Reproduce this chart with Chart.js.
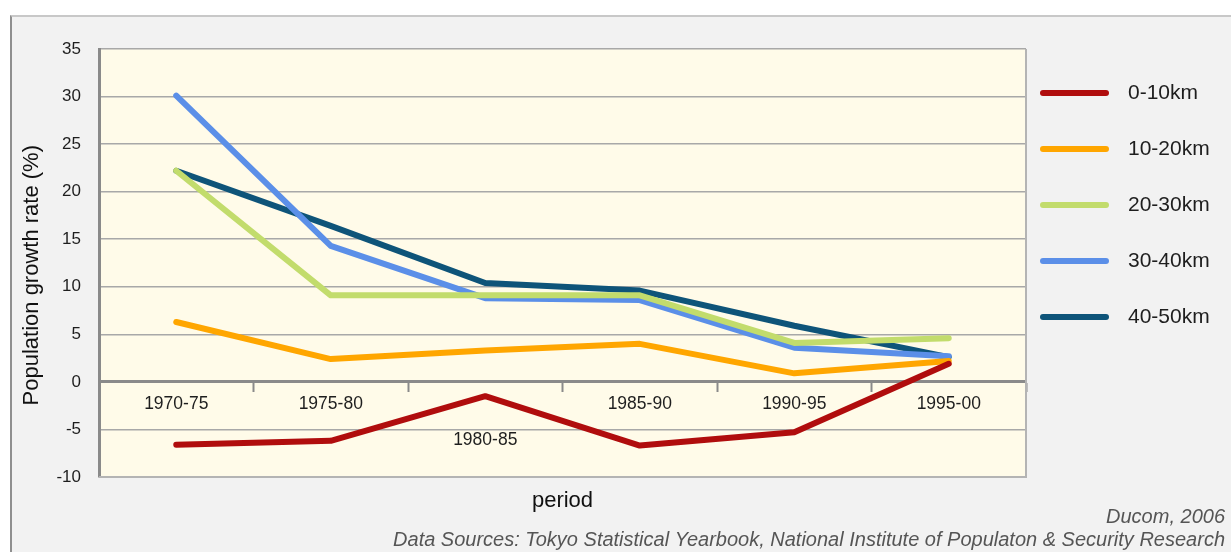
<!DOCTYPE html>
<html>
<head>
<meta charset="utf-8">
<script src="https://cdn.jsdelivr.net/npm/chart.js@4.4.1/dist/chart.umd.min.js"></script>
<style>
  html, body { margin: 0; padding: 0; background: #ffffff; width: 1231px; height: 552px; overflow: hidden; }
  #frame { position: absolute; left: 10px; top: 15px; width: 1221px; height: 537px; background: #f2f2f2;
           border-left: 2px solid #8f8f8f; border-top: 2px solid #c8c8c8; box-sizing: border-box; }
  #wrap { position: absolute; left: 0; top: 0; width: 1231px; height: 552px; }
</style>
</head>
<body>
<div id="frame"></div>
<div id="wrap"><canvas id="c" width="1231" height="552"></canvas></div>
<script>
const periods = ['1970-75', '1975-80', '1980-85', '1985-90', '1990-95', '1995-00'];
const seriesNames = ['0-10km', '10-20km', '20-30km', '30-40km', '40-50km'];
const ring0_10 = [-6.6, -6.2, -1.5, -6.7, -5.3, 1.9];
const ring10_20 = [6.3, 2.4, 3.3, 4.0, 0.9, 2.2];
const ring20_30 = [22.2, 9.1, 9.1, 9.1, 4.1, 4.6];
const ring30_40 = [30.1, 14.3, 8.8, 8.6, 3.6, 2.7];
const ring40_50 = [22.2, 16.4, 10.4, 9.6, 5.9, 2.6];
const yTicks = { min: -10, max: 35, step: 5 };
const colors = ['#b00d0d', '#ffa600', '#c2dc6c', '#5b8fe8', '#0e5479'];
const footerLines = ['Ducom, 2006', 'Data Sources: Tokyo Statistical Yearbook, National Institute of Populaton & Security Research'];

const FONT = "'Liberation Sans', Arial, sans-serif";
const seriesData = [ring0_10, ring10_20, ring20_30, ring30_40, ring40_50];

const datasets = seriesData.map((d, i) => ({
  label: seriesNames[i],
  data: d,
  borderColor: colors[i],
  backgroundColor: colors[i],
  borderWidth: 6,
  borderCapStyle: 'round',
  borderJoinStyle: 'round',
  pointRadius: 0,
  pointHoverRadius: 0,
  tension: 0,
  fill: false
}));

const plotBg = {
  id: 'plotBg',
  beforeDraw(chart) {
    const { ctx, chartArea: a } = chart;
    ctx.save();
    ctx.fillStyle = '#fffbe9';
    ctx.fillRect(a.left, a.top, a.right - a.left, a.bottom - a.top);
    ctx.restore();
  },
  afterDatasetsDraw(chart) {
    const { ctx, chartArea: a } = chart;
    ctx.save();
    ctx.strokeStyle = '#b4b4b4';
    ctx.lineWidth = 2;
    ctx.beginPath();
    ctx.moveTo(a.right, a.top);
    ctx.lineTo(a.right, a.bottom);
    ctx.lineTo(a.left, a.bottom);
    ctx.stroke();
    ctx.restore();
  }
};

const sideLegend = {
  id: 'sideLegend',
  afterDraw(chart) {
    const { ctx, chartArea: a } = chart;
    ctx.save();
    chart.data.datasets.forEach((ds, i) => {
      const y = a.top + 44 + i * 56;
      ctx.strokeStyle = ds.borderColor;
      ctx.lineWidth = 6;
      ctx.lineCap = 'round';
      ctx.beginPath();
      ctx.moveTo(a.right + 17, y);
      ctx.lineTo(a.right + 80, y);
      ctx.stroke();
      ctx.fillStyle = '#1e1e1e';
      ctx.font = '21px ' + FONT;
      ctx.textBaseline = 'middle';
      ctx.textAlign = 'left';
      ctx.fillText(ds.label, a.right + 102, y);
    });
    ctx.restore();
  }
};

new Chart(document.getElementById('c'), {
  type: 'line',
  data: { labels: periods, datasets },
  plugins: [plotBg, sideLegend],
  options: {
    responsive: false,
    animation: false,
    devicePixelRatio: 1,
    layout: { padding: { left: 10, right: 6, top: 49, bottom: 0 } },
    plugins: {
      legend: { display: false },
      tooltip: { enabled: false },
      title: {
        display: true,
        position: 'bottom',
        align: 'end',
        text: footerLines,
        color: '#555555',
        font: { family: FONT, size: 20, style: 'italic', weight: 'normal', lineHeight: 1.15 },
        padding: { top: -10, bottom: 0 }
      }
    },
    scales: {
      x: {
        type: 'category',
        position: { y: 0 },
        offset: true,
        grid: { display: true, drawOnChartArea: false, drawTicks: true, tickLength: 9, tickWidth: 2, tickColor: '#8a8a8a', offset: true },
        border: { display: true, color: '#8a8a8a', width: 3 },
        ticks: {
          color: '#1e1e1e',
          font: { family: FONT, size: 17.5, lineHeight: 1.04 },
          padding: 4,
          maxRotation: 0,
          autoSkip: false,
          callback: function (v, i) {
            const lab = this.getLabelForValue(v);
            return i === 2 ? ['', '', lab] : lab;
          }
        }
      },
      x2: {
        type: 'category',
        position: 'bottom',
        grid: { display: false, drawTicks: false },
        border: { display: false },
        ticks: { display: false },
        title: { display: true, text: 'period', color: '#111111', font: { family: FONT, size: 22 }, padding: { top: 11, bottom: 1.6 } }
      },
      y: {
        position: 'left',
        min: yTicks.min,
        max: yTicks.max,
        ticks: { stepSize: yTicks.step, color: '#1e1e1e', font: { family: FONT, size: 17 }, padding: 18 },
        grid: { color: '#a8a8a8', lineWidth: 1.5, drawTicks: false },
        border: { display: true, color: '#8a8a8a', width: 3 },
        title: { display: true, text: 'Population growth rate (%)    ', color: '#111111', font: { family: FONT, size: 22 }, padding: { top: 9, bottom: 0 } },
        afterFit: s => { s.width = 89; }
      },
      y2: {
        position: 'right',
        display: true,
        grid: { display: false, drawTicks: false },
        border: { display: false },
        ticks: { display: false },
        afterFit: s => { s.width = 199; }
      }
    }
  }
});
</script>
</body>
</html>
